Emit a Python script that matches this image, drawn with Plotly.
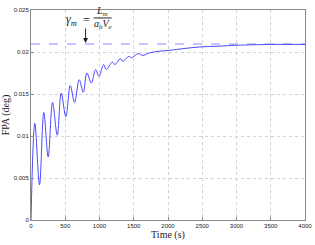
import plotly.graph_objects as go

# Data
time_s = [0, 56, 124, 187, 251, 314, 383, 441, 509, 573, 636, 704, 763, 816, 880,
          943, 992, 1060, 1099, 1187, 1225, 1304, 1342, 1430, 1465, 1561, 1635,
          1733, 1879, 2025, 2220, 2463, 2756, 3000, 3500, 4000]
fpa_deg = [0, 0.0115, 0.0042, 0.0128, 0.0075, 0.0140, 0.0101, 0.0151, 0.0123,
           0.0160, 0.0140, 0.0167, 0.0152, 0.0175, 0.0163, 0.0179, 0.0171,
           0.0185, 0.0179, 0.0188, 0.0185, 0.0192, 0.0189, 0.0195, 0.0193,
           0.0198, 0.0196, 0.0199, 0.0201, 0.0202, 0.0204, 0.0206, 0.0207,
           0.0208, 0.0209, 0.0209]
gamma_m = 0.02095
ref_time = [0, 4000]
x_ticks = [0, 500, 1000, 1500, 2000, 2500, 3000, 3500, 4000]
y_ticks = [0, 0.005, 0.01, 0.015, 0.02, 0.025]
y_ticklabels = ["0", "0.005", "0.01", "0.015", "0.02", "0.025"]
arrow_time = 797

fig = go.Figure()
fig.add_trace(go.Scatter(x=ref_time, y=[gamma_m, gamma_m], mode="lines",
                         line=dict(color="#8c8cff", width=1, dash="dash"),
                         showlegend=False, hoverinfo="skip"))
fig.add_trace(go.Scatter(x=time_s, y=fpa_deg, mode="lines",
                         line=dict(color="#4a4aff", width=1, shape="spline", smoothing=1.0),
                         showlegend=False))

serif = "Liberation Serif"
axis_common = dict(showline=True, mirror=True, linecolor="#8a8a8a", linewidth=1,
                   showgrid=True, gridcolor="#d2d2d2", griddash="dot", gridwidth=1,
                   ticks="inside", ticklen=3, tickcolor="#8a8a8a", zeroline=False,
                   automargin=False,
                   tickfont=dict(family="Arial", size=6, color="#222"))

fig.update_layout(
    width=315, height=245,
    margin=dict(l=31, r=10, t=10, b=25),
    paper_bgcolor="white", plot_bgcolor="white",
    xaxis=dict(range=[0, 4000], tickvals=x_ticks,
               title=dict(text="Time (s)", font=dict(family=serif, size=10, color="#222"), standoff=2),
               **axis_common),
    yaxis=dict(range=[0, 0.025], tickvals=y_ticks, ticktext=y_ticklabels,
               title=dict(text="FPA (deg)", font=dict(family=serif, size=10, color="#222"), standoff=4),
               **axis_common),
)

# formula annotation: gamma_m = L_m / (a_h V_e)
fig.add_annotation(x=592, y=0.0238, xref="x", yref="y", showarrow=False,
                   text="<i>γ</i><sub><i>m</i></sub>", font=dict(family=serif, size=12, color="#222"))
fig.add_annotation(x=811, y=0.0238, xref="x", yref="y", showarrow=False,
                   text="=", font=dict(family=serif, size=12, color="#222"))
fig.add_annotation(x=1040, y=0.02482, xref="x", yref="y", showarrow=False,
                   text="<i>L</i><sub><i>m</i></sub>", font=dict(family=serif, size=10, color="#222"))
fig.add_annotation(x=1045, y=0.02326, xref="x", yref="y", showarrow=False,
                   text="<i>a</i><sub><i>h</i></sub><i>V</i><sub><i>e</i></sub>",
                   font=dict(family=serif, size=10, color="#222"))
fig.add_shape(type="line", xref="x", yref="y", x0=914, x1=1177, y0=0.02405, y1=0.02405,
              line=dict(color="#222", width=1))
fig.add_annotation(x=arrow_time, y=0.02107, ax=arrow_time, ay=0.02298, xref="x", yref="y",
                   axref="x", ayref="y", showarrow=True, arrowhead=2, arrowsize=1,
                   arrowwidth=1, arrowcolor="#222", text="")

fig.write_html("out.html")
